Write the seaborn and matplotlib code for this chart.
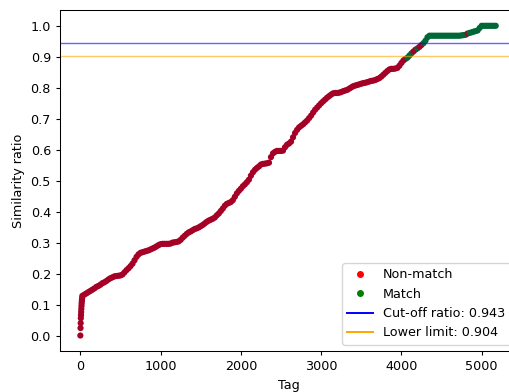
import numpy as np
import pandas as pd
import seaborn as sns
import matplotlib
matplotlib.use("Agg")
import matplotlib.pyplot as plt
from matplotlib.lines import Line2D

# first few tags: the near-vertical start of the curve
head_tag = [0, 2, 4, 6, 8, 10, 12, 14, 16, 18, 20, 22]
head_ratio = [0.0, 0.024, 0.040, 0.056, 0.066, 0.076, 0.086, 0.095, 0.103, 0.110, 0.116, 0.121]

# sorted similarity ratio, one value every 25 tags starting at tag 25
ratio = [
    0.128, 0.132, 0.136, 0.140, 0.144, 0.148, 0.152, 0.157,   # 25-200
    0.160, 0.164, 0.169, 0.172, 0.176, 0.181, 0.185, 0.188,   # 225-400
    0.191, 0.192, 0.193, 0.194, 0.197, 0.204, 0.211, 0.217,   # 425-600
    0.224, 0.232, 0.243, 0.254, 0.262, 0.267, 0.269, 0.271,   # 625-800
    0.273, 0.275, 0.278, 0.281, 0.284, 0.288, 0.292, 0.295,   # 825-1000
    0.296, 0.296, 0.296, 0.296, 0.297, 0.300, 0.301, 0.302,   # 1025-1200
    0.304, 0.309, 0.316, 0.322, 0.328, 0.333, 0.336, 0.340,   # 1225-1400
    0.344, 0.346, 0.349, 0.353, 0.357, 0.362, 0.367, 0.371,   # 1425-1600
    0.374, 0.377, 0.381, 0.388, 0.394, 0.402, 0.410, 0.419,   # 1625-1800
    0.425, 0.428, 0.431, 0.437, 0.448, 0.459, 0.467, 0.474,   # 1825-2000
    0.482, 0.488, 0.495, 0.503, 0.516, 0.527, 0.535, 0.541,   # 2025-2200
    0.546, 0.552, 0.554, 0.555, 0.556, 0.558, 0.576, 0.588,   # 2225-2400
    0.593, 0.596, 0.596, 0.596, 0.597, 0.608, 0.616, 0.620,   # 2425-2600
    0.626, 0.640, 0.654, 0.664, 0.672, 0.677, 0.682, 0.688,   # 2625-2800
    0.694, 0.702, 0.710, 0.720, 0.729, 0.736, 0.743, 0.750,   # 2825-3000
    0.756, 0.762, 0.768, 0.773, 0.778, 0.782, 0.783, 0.783,   # 3025-3200
    0.784, 0.786, 0.789, 0.791, 0.793, 0.797, 0.801, 0.805,   # 3225-3400
    0.807, 0.809, 0.811, 0.813, 0.815, 0.816, 0.818, 0.820,   # 3425-3600
    0.822, 0.823, 0.825, 0.828, 0.831, 0.836, 0.842, 0.848,   # 3625-3800
    0.854, 0.859, 0.861, 0.861, 0.862, 0.864, 0.871, 0.880,   # 3825-4000
    0.888, 0.893, 0.897, 0.904, 0.911, 0.917, 0.923, 0.927,   # 4025-4200
    0.932, 0.938, 0.944, 0.952, 0.963, 0.968, 0.968, 0.968,   # 4225-4400
    0.968, 0.968, 0.968, 0.968, 0.968, 0.968, 0.968, 0.968,   # 4425-4600
    0.968, 0.968, 0.968, 0.968, 0.968, 0.969, 0.970, 0.971,   # 4625-4800
    0.975, 0.977, 0.979, 0.981, 0.983, 0.985, 0.993, 1.000,   # 4825-5000
    1.000, 1.000, 1.000, 1.000, 1.000, 1.000, 1.000,          # 5025-5175
]

# tag ranges that are matches (green), everything else is non-match
match_spans = [(4070, 4140), (4190, 4210), (4260, 4810), (4840, 5200)]

cutoff = 0.943
lower = 0.904

tags = head_tag + [25 * (i + 1) for i in range(len(ratio))]
vals = head_ratio + ratio
df = pd.DataFrame({"Tag": tags, "Similarity ratio": vals})
df["match"] = df["Tag"].apply(
    lambda t: "Match" if any(a <= t <= b for a, b in match_spans) else "Non-match")

# the reference looks like a default figure shrunk a little
plt.rcParams["font.size"] = 9.2
plt.rcParams["axes.linewidth"] = 0.75
plt.rcParams["xtick.major.size"] = 3.2
plt.rcParams["ytick.major.size"] = 3.2

fig = plt.figure(figsize=(5.1, 3.92), dpi=100)
ax = fig.add_axes([0.1182, 0.1046, 0.8955, 0.8691])

sns.scatterplot(data=df, x="Tag", y="Similarity ratio", hue="match",
                palette={"Non-match": "#a50026", "Match": "#006837"},
                s=20, linewidth=0, edgecolor="none", legend=False, ax=ax)

ax.axhline(cutoff, color="blue", lw=1, alpha=0.6)
ax.axhline(lower, color="orange", lw=1, alpha=0.6)

ax.set_xlim(-250, 5440)
ax.set_ylim(-0.05, 1.05)
ax.set_yticks(np.round(np.arange(0, 1.01, 0.1), 1))
ax.set_xlabel("Tag")
ax.set_ylabel("Similarity ratio")
ax.spines["right"].set_visible(False)

handles = [
    Line2D([0], [0], marker="o", color="red", linestyle="", markersize=4),
    Line2D([0], [0], marker="o", color="green", linestyle="", markersize=4),
    Line2D([0], [0], color="blue", lw=1.4),
    Line2D([0], [0], color="orange", lw=1.4),
]
labels = ["Non-match", "Match", f"Cut-off ratio: {cutoff}", f"Lower limit: {lower}"]
ax.legend(handles, labels, loc="lower right")

fig.savefig("out.png", dpi=100)
